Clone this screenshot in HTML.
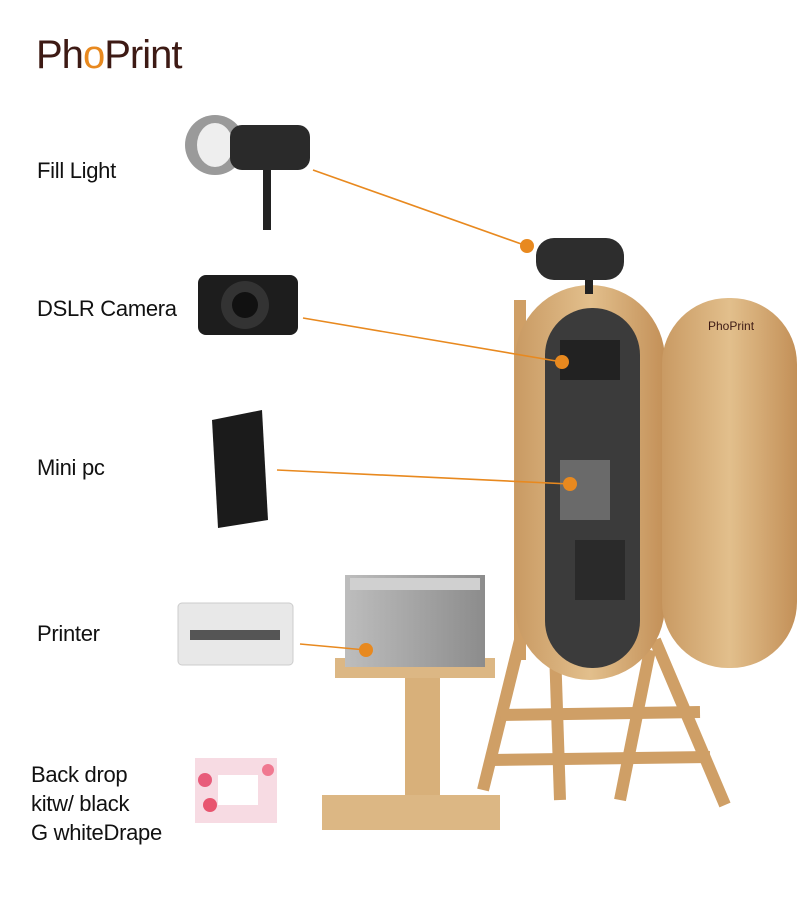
<!DOCTYPE html>
<html><head><style>
body{margin:0;background:#fff}
.l{position:absolute;font-family:"Liberation Sans",sans-serif;font-size:22px;color:#111;letter-spacing:-0.3px}
</style></head><body>
<div style="position:relative;width:800px;height:900px;overflow:hidden">
<svg width="800" height="900" style="position:absolute;left:0;top:0">
<defs>
<linearGradient id="w" x1="0" x2="1"><stop offset="0" stop-color="#c99a63"/><stop offset=".5" stop-color="#e2bf8c"/><stop offset="1" stop-color="#c39058"/></linearGradient>
<linearGradient id="g" x1="0" x2="1"><stop offset="0" stop-color="#bdbdbd"/><stop offset="1" stop-color="#8c8c8c"/></linearGradient>
</defs>
<!-- logo -->
<text x="36" y="68" font-family="Liberation Sans,sans-serif" font-size="40" fill="#3d1a14" letter-spacing="-1">Ph<tspan fill="#e8891f">o</tspan>Print</text>
<!-- left thumbnails -->
<ellipse cx="215" cy="145" rx="30" ry="30" fill="#9a9a9a"/><ellipse cx="215" cy="145" rx="18" ry="22" fill="#eee"/>
<rect x="230" y="125" width="80" height="45" rx="12" fill="#2a2a2a"/><rect x="263" y="170" width="8" height="60" fill="#222"/>
<rect x="198" y="275" width="100" height="60" rx="8" fill="#1d1d1d"/><circle cx="245" cy="305" r="24" fill="#333"/><circle cx="245" cy="305" r="13" fill="#111"/>
<polygon points="212,420 262,410 268,520 218,528" fill="#1b1b1b"/>
<rect x="178" y="603" width="115" height="62" rx="4" fill="#e8e8e8" stroke="#ccc"/><rect x="190" y="630" width="90" height="10" fill="#555"/>
<rect x="195" y="758" width="82" height="65" fill="#f7dbe3"/><rect x="218" y="775" width="40" height="30" fill="#fff"/>
<circle cx="205" cy="780" r="7" fill="#e85c7a"/><circle cx="210" cy="805" r="7" fill="#e8556f"/><circle cx="268" cy="770" r="6" fill="#f07890"/>
<!-- stand legs booth -->
<g stroke="#cf9f66" stroke-width="12" fill="none">
<line x1="520" y1="640" x2="483" y2="790"/><line x1="555" y1="650" x2="560" y2="800"/>
<line x1="650" y1="650" x2="620" y2="800"/><line x1="655" y1="640" x2="725" y2="805"/>
<line x1="500" y1="715" x2="700" y2="712"/><line x1="490" y1="760" x2="710" y2="757"/>
<line x1="520" y1="300" x2="520" y2="660"/>
</g>
<!-- booth capsule -->
<rect x="515" y="285" width="150" height="395" rx="75" fill="url(#w)"/>
<rect x="545" y="308" width="95" height="360" rx="47" fill="#3b3b3b"/>
<rect x="560" y="340" width="60" height="40" fill="#222"/>
<rect x="560" y="460" width="50" height="60" fill="#6a6a6a"/>
<rect x="575" y="540" width="50" height="60" fill="#2a2a2a"/>
<!-- door -->
<rect x="662" y="298" width="135" height="370" rx="66" fill="url(#w)"/>
<text x="708" y="330" font-family="Liberation Sans,sans-serif" font-size="12" fill="#3d1a14">PhoPrint</text>
<!-- light on top -->
<rect x="536" y="238" width="88" height="42" rx="18" fill="#2d2d2d"/><rect x="585" y="280" width="8" height="14" fill="#222"/>
<!-- table -->
<rect x="405" y="678" width="35" height="122" fill="#d8b07a"/>
<rect x="322" y="795" width="178" height="35" fill="#dcb784"/>
<rect x="335" y="658" width="160" height="20" fill="#dcb784"/>
<rect x="345" y="575" width="140" height="92" fill="url(#g)"/>
<rect x="350" y="578" width="130" height="12" fill="#d0d0d0"/>
<!-- connectors -->
<g stroke="#e8891f" stroke-width="1.6">
<line x1="313" y1="170" x2="527" y2="246"/><line x1="303" y1="318" x2="562" y2="362"/>
<line x1="277" y1="470" x2="570" y2="484"/><line x1="300" y1="644" x2="366" y2="650"/>
</g>
<g fill="#e8891f"><circle cx="527" cy="246" r="7"/><circle cx="562" cy="362" r="7"/><circle cx="570" cy="484" r="7"/><circle cx="366" cy="650" r="7"/></g>
</svg>
<div class="l" style="left:37px;top:158px">Fill Light</div>
<div class="l" style="left:37px;top:296px">DSLR Camera</div>
<div class="l" style="left:37px;top:455px">Mini pc</div>
<div class="l" style="left:37px;top:621px">Printer</div>
<div class="l" style="left:31px;top:760px;line-height:29px">Back drop<br>kitw/ black<br>G whiteDrape</div>
</div>
</body></html>
